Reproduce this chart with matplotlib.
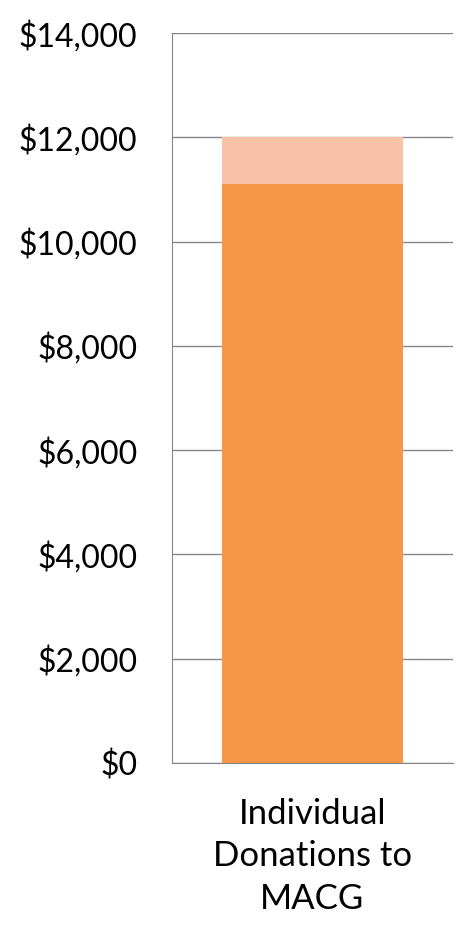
import matplotlib.pyplot as plt
from matplotlib.ticker import FuncFormatter

# Data
categories = ['Individual\nDonations to\nMACG']
base_values = [11100]
top_values = [900]   # stacked on top, reaching 12,000
y_ticks = [0, 2000, 4000, 6000, 8000, 10000, 12000, 14000]

plt.rcParams['font.family'] = ['Lato', 'DejaVu Sans']

fig = plt.figure(figsize=(4.77, 9.39), dpi=100)
ax = fig.add_axes([0.3606, 0.1874, 0.589, 0.7774])

x = list(range(len(categories)))
ax.bar(x, base_values, width=0.644, color='#F79646', zorder=3)
ax.bar(x, top_values, bottom=base_values, width=0.644, color='#F9C2A6', zorder=3)

ax.set_xlim(-0.5, 0.5)
ax.set_ylim(0, 14000)
ax.set_yticks(y_ticks)
ax.yaxis.set_major_formatter(FuncFormatter(lambda v, p: f'${v:,.0f}'))
ax.set_xticks(x)
ax.set_xticklabels(categories, fontsize=25, linespacing=1.4)

ax.grid(axis='y', color='#868686', linewidth=1, zorder=0)
ax.tick_params(axis='y', labelsize=23, length=0, pad=25)
ax.tick_params(axis='x', length=0, pad=25)
for side in ['top', 'right']:
    ax.spines[side].set_visible(False)
for side in ['left', 'bottom']:
    ax.spines[side].set_color('#868686')

plt.savefig('out.png')
